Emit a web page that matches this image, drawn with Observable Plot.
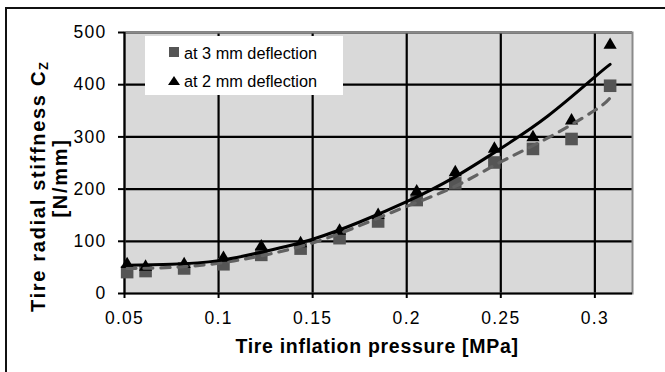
<!DOCTYPE html>
<html>
<head>
<meta charset="utf-8">
<script src="https://cdn.jsdelivr.net/npm/d3@7"></script>
<script src="https://cdn.jsdelivr.net/npm/@observablehq/plot@0.6"></script>
<style>
  html, body { margin: 0; padding: 0; background: #fff; }
  #wrap { position: relative; width: 665px; height: 372px; overflow: hidden; background: #fff;
          font-family: 'Liberation Sans', Arial, Helvetica, sans-serif; }
  #wrap svg { position: absolute; left: 0; top: 0; }
  #border { position: absolute; left: 5px; top: 7px; width: 700px; height: 400px;
            border-left: 2px solid #111; border-top: 2px solid #111; }
  .ttl { position: absolute; font-weight: bold; color: #000; white-space: nowrap; line-height: 1; }
  #ytitle1, #ytitle2 { transform: translate(-50%, -50%) rotate(-90deg); font-size: 20px; letter-spacing: 1.7px; }
  #ytitle1 sub { font-size: 0.65em; vertical-align: -0.25em; letter-spacing: 0; line-height: 0; }
  #xtitle { transform: translate(-50%, -50%); font-size: 19.5px; letter-spacing: 0.7px; }
  #legend { position: absolute; left: 145px; top: 36px; width: 198px; height: 59px; background: #fff; }
  .lgtxt { position: absolute; font-size: 16.3px; line-height: 16.3px; white-space: nowrap; color: #000; }
  #lgSq { position: absolute; left: 169px; top: 47px; width: 10px; height: 10px; background: #555; }
  #lgTri { position: absolute; left: 168px; top: 76px; width: 0; height: 0;
           border-left: 6px solid transparent; border-right: 6px solid transparent; border-bottom: 9px solid #000; }
</style>
</head>
<body>
<div id="wrap">
  <div id="border"></div>
</div>
<script>
// ---- data ----
const pressure = [0.0514, 0.0612, 0.0817, 0.1026, 0.1227, 0.1436, 0.1643, 0.1848, 0.2053, 0.2258, 0.2466, 0.2671, 0.2876, 0.3081];
const stiff3mm = [41, 43, 48, 56, 74, 86, 106, 138, 179, 211, 251, 277, 296, 398];
const stiff2mm = [56, 51, 56, 68, 90, 96, 120, 150, 195, 232, 277, 299, 331, 476];

// trend curves
const trendX   = [0.0514, 0.075, 0.1, 0.125, 0.15, 0.175, 0.2, 0.225, 0.25, 0.275, 0.3, 0.3081];
const trend2mm = [54, 56, 63, 81, 104, 137, 176, 222, 278, 340, 415, 439];
const trend3mm = [48, 50, 58, 74, 97, 130, 167, 204, 252, 298, 351, 375];

const xTicks = [0.05, 0.1, 0.15, 0.2, 0.25, 0.3];
const yTicks = [0, 100, 200, 300, 400, 500];
const xGrid = [0.1, 0.15, 0.2, 0.25, 0.3];
const yGrid = [100, 200, 300, 400, 500];

const seriesLabels = ["at 3 mm deflection", "at 2 mm deflection"];
const xTitle = "Tire inflation pressure [MPa]";
const yTitleMain = "Tire radial stiffness C";
const yTitleSub = "Z";
const yTitleUnit = "[N/mm]";

// ---- tables ----
const pts3 = pressure.map((p, i) => ({p, v: stiff3mm[i]}));
const pts2 = pressure.map((p, i) => ({p, v: stiff2mm[i]}));
const fit3 = trendX.map((p, i) => ({p, v: trend3mm[i]}));
const fit2 = trendX.map((p, i) => ({p, v: trend2mm[i]}));

const chart = Plot.plot({
  width: 665,
  height: 372,
  marginLeft: 124,
  marginRight: 33,
  marginTop: 32,
  marginBottom: 79,
  x: {domain: [0.05, 0.32]},
  y: {domain: [0, 500]},
  style: {
    fontFamily: "'Liberation Sans', Arial, Helvetica, sans-serif",
    fontSize: "17.5px",
    color: "#000",
    background: "transparent",
    letterSpacing: "1.3px",
    overflow: "visible"
  },
  marks: [
    Plot.frame({fill: "#d9d9d9"}),
    Plot.ruleY(yGrid, {stroke: "#000", strokeWidth: 2.2}),
    Plot.ruleX(xGrid, {stroke: "#000", strokeWidth: 2.2}),
    Plot.frame({stroke: "#8a8a8a", strokeWidth: 2}),
    Plot.ruleX([xTicks[0]], {stroke: "#000", strokeWidth: 2.2}),
    Plot.ruleY([yTicks[0]], {stroke: "#000", strokeWidth: 2.2}),
    Plot.axisX({ticks: xTicks, tickSize: 5, tickPadding: 13.5, tickFormat: d => String(d), label: null, strokeWidth: 2, stroke: "#000"}),
    Plot.axisY({ticks: yTicks, tickSize: 6, tickPadding: 12, label: null, strokeWidth: 2, stroke: "#000"}),
    Plot.dot(pts3, {x: "p", y: "v", symbol: "square", r: 7.1, fill: "#555555", stroke: "none"}),
    Plot.dot(pts2, {x: "p", y: "v", symbol: "triangle", r: 4.9, fill: "#000", stroke: "none"}),
    Plot.line(fit3, {x: "p", y: "v", curve: "natural", stroke: "#626262", strokeWidth: 3.2, strokeDasharray: "9,8", strokeLinecap: "round"}),
    Plot.line(fit2, {x: "p", y: "v", curve: "natural", stroke: "#000", strokeWidth: 3, strokeLinecap: "round"})
  ]
});

const wrap = document.getElementById("wrap");
wrap.appendChild(chart);

// legend inside plot area
const legend = document.createElement("div");
legend.id = "legend";
wrap.appendChild(legend);
const sq = document.createElement("div"); sq.id = "lgSq"; wrap.appendChild(sq);
const tri = document.createElement("div"); tri.id = "lgTri"; wrap.appendChild(tri);
[[seriesLabels[0], 44.5], [seriesLabels[1], 72.8]].forEach(([t, top]) => {
  const d = document.createElement("div");
  d.className = "lgtxt";
  d.style.left = "184px";
  d.style.top = top + "px";
  d.textContent = t;
  wrap.appendChild(d);
});

// axis titles
const xt = document.createElement("div");
xt.className = "ttl"; xt.id = "xtitle";
xt.style.left = "377px"; xt.style.top = "346.5px";
xt.textContent = xTitle;
wrap.appendChild(xt);

const y1 = document.createElement("div");
y1.className = "ttl"; y1.id = "ytitle1";
y1.style.left = "37.5px"; y1.style.top = "186.5px";
y1.append(yTitleMain);
const sub = document.createElement("sub"); sub.textContent = yTitleSub; y1.appendChild(sub);
wrap.appendChild(y1);

const y2 = document.createElement("div");
y2.className = "ttl"; y2.id = "ytitle2";
y2.style.left = "60px"; y2.style.top = "177.5px";
y2.textContent = yTitleUnit;
wrap.appendChild(y2);
</script>
</body>
</html>
